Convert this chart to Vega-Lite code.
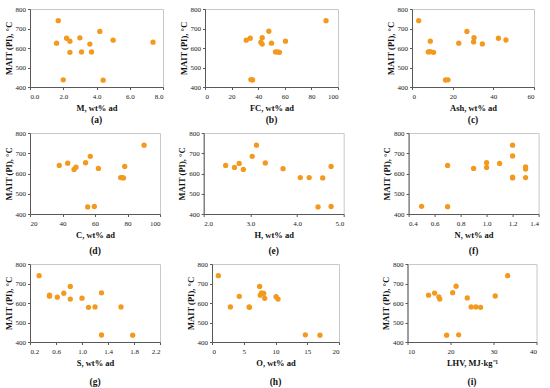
{
  "$schema": "https://vega.github.io/schema/vega-lite/v6.json",
  "padding": {"left": 3, "top": 4, "right": 0, "bottom": 0},
  "background": "white",
  "config": {
    "font": "Liberation Serif",
    "view": {"stroke": "#c8c8c8", "strokeWidth": 1},
    "axis": {
      "grid": false,
      "labelFont": "Liberation Serif",
      "labelFontSize": 7,
      "labelColor": "#222222",
      "titleFont": "Liberation Serif",
      "titleFontSize": 8.5,
      "titleFontWeight": "bold",
      "titleColor": "#111111",
      "domainColor": "#595959",
      "tickColor": "#595959",
      "tickSize": 2.5,
      "labelPadding": 2,
      "titlePadding": 2
    },
    "axisX": {"labelPadding": 3, "titlePadding": 4},
    "title": {"font": "Liberation Serif", "fontSize": 9.5, "fontWeight": "bold", "color": "#111111"},
    "circle": {"size": 28, "opacity": 1, "color": "#F39A1E"}
  },
  "datasets": {
    "a": [
      {"x": 1.7, "y": 740}, {"x": 1.6, "y": 625}, {"x": 2.2, "y": 650}, {"x": 2.4, "y": 635},
      {"x": 2.4, "y": 578}, {"x": 3.0, "y": 652}, {"x": 3.1, "y": 580}, {"x": 3.6, "y": 620},
      {"x": 3.7, "y": 580}, {"x": 4.2, "y": 685}, {"x": 2.0, "y": 437}, {"x": 4.4, "y": 435},
      {"x": 5.0, "y": 640}, {"x": 7.4, "y": 630}
    ],
    "b": [
      {"x": 31, "y": 640}, {"x": 34, "y": 650}, {"x": 43, "y": 653}, {"x": 42, "y": 630},
      {"x": 43, "y": 620}, {"x": 48, "y": 686}, {"x": 50, "y": 625}, {"x": 53, "y": 580},
      {"x": 54.5, "y": 580}, {"x": 56, "y": 578}, {"x": 60.5, "y": 635}, {"x": 91, "y": 740},
      {"x": 34.5, "y": 438}, {"x": 35.8, "y": 436}
    ],
    "c": [
      {"x": 3.3, "y": 740}, {"x": 9, "y": 635}, {"x": 8, "y": 580}, {"x": 9, "y": 581},
      {"x": 10.6, "y": 578}, {"x": 16.5, "y": 436}, {"x": 17.7, "y": 437}, {"x": 23, "y": 625},
      {"x": 27, "y": 685}, {"x": 30.5, "y": 653}, {"x": 30.3, "y": 631}, {"x": 34.6, "y": 621},
      {"x": 42.5, "y": 650}, {"x": 46.2, "y": 641}
    ],
    "d": [
      {"x": 38, "y": 640}, {"x": 43.2, "y": 651}, {"x": 47.1, "y": 620}, {"x": 48.3, "y": 631},
      {"x": 54.2, "y": 653}, {"x": 57.1, "y": 685}, {"x": 62.1, "y": 625}, {"x": 55.5, "y": 435},
      {"x": 59.6, "y": 437}, {"x": 75.8, "y": 580}, {"x": 76.8, "y": 580}, {"x": 77.5, "y": 578},
      {"x": 78.3, "y": 635}, {"x": 90.2, "y": 740}
    ],
    "e": [
      {"x": 2.47, "y": 640}, {"x": 2.66, "y": 630}, {"x": 2.76, "y": 650}, {"x": 2.85, "y": 620},
      {"x": 3.04, "y": 685}, {"x": 3.13, "y": 740}, {"x": 3.32, "y": 652}, {"x": 3.7, "y": 624},
      {"x": 4.07, "y": 580}, {"x": 4.26, "y": 580}, {"x": 4.55, "y": 578}, {"x": 4.73, "y": 635},
      {"x": 4.45, "y": 435}, {"x": 4.73, "y": 437}
    ],
    "f": [
      {"x": 0.5, "y": 438}, {"x": 0.7, "y": 436}, {"x": 0.7, "y": 640}, {"x": 0.9, "y": 625},
      {"x": 1.0, "y": 653}, {"x": 1.0, "y": 630}, {"x": 1.1, "y": 650}, {"x": 1.2, "y": 740},
      {"x": 1.2, "y": 687}, {"x": 1.2, "y": 582}, {"x": 1.2, "y": 578}, {"x": 1.3, "y": 633},
      {"x": 1.3, "y": 622}, {"x": 1.3, "y": 580}
    ],
    "g": [
      {"x": 0.34, "y": 740}, {"x": 0.5, "y": 640}, {"x": 0.5, "y": 635}, {"x": 0.62, "y": 630},
      {"x": 0.72, "y": 650}, {"x": 0.82, "y": 685}, {"x": 0.82, "y": 620}, {"x": 1.0, "y": 625},
      {"x": 1.1, "y": 578}, {"x": 1.2, "y": 580}, {"x": 1.3, "y": 652}, {"x": 1.3, "y": 436},
      {"x": 1.6, "y": 580}, {"x": 1.78, "y": 435}
    ],
    "h": [
      {"x": 1.0, "y": 740}, {"x": 2.9, "y": 580}, {"x": 4.3, "y": 634}, {"x": 5.85, "y": 580},
      {"x": 5.9, "y": 578}, {"x": 7.5, "y": 685}, {"x": 7.6, "y": 640}, {"x": 7.8, "y": 652},
      {"x": 8.15, "y": 649}, {"x": 8.3, "y": 624}, {"x": 10.1, "y": 632}, {"x": 10.4, "y": 620},
      {"x": 14.7, "y": 437}, {"x": 17.0, "y": 435}
    ],
    "i": [
      {"x": 14.9, "y": 640}, {"x": 16.3, "y": 651}, {"x": 17.3, "y": 631}, {"x": 17.5, "y": 620},
      {"x": 20.5, "y": 653}, {"x": 21.3, "y": 686}, {"x": 23.9, "y": 626}, {"x": 24.8, "y": 580},
      {"x": 25.9, "y": 580}, {"x": 27.0, "y": 578}, {"x": 30.4, "y": 636}, {"x": 33.3, "y": 740},
      {"x": 19.1, "y": 435}, {"x": 21.9, "y": 437}
    ]
  },
  "vconcat": [
    {
      "hconcat": [
        {
          "hconcat": [
            {
              "width": 133, "height": 78,
              "data": {"name": "a"},
              "mark": "circle",
              "encoding": {
                "x": {"field": "x", "type": "quantitative", "scale": {"domain": [0, 8], "nice": false, "zero": false}, "axis": {"values": [0, 2, 4, 6, 8], "format": ".1f", "title": "M, wt% ad"}},
                "y": {"field": "y", "type": "quantitative", "scale": {"domain": [400, 800], "nice": false, "zero": false}, "axis": {"values": [400, 500, 600, 700, 800], "title": "MAIT (PI), °C"}}
              },
              "title": {"text": "(a)", "orient": "bottom", "offset": 3}
            },
            {
              "width": 133, "height": 78,
              "data": {"name": "b"},
              "mark": "circle",
              "encoding": {
                "x": {"field": "x", "type": "quantitative", "scale": {"domain": [0, 100], "nice": false, "zero": false}, "axis": {"values": [0, 20, 40, 60, 80, 100], "title": "FC, wt% ad"}},
                "y": {"field": "y", "type": "quantitative", "scale": {"domain": [400, 800], "nice": false, "zero": false}, "axis": {"values": [400, 500, 600, 700, 800], "title": "MAIT (PI), °C"}}
              },
              "title": {"text": "(b)", "orient": "bottom", "offset": 3}
            }
          ],
          "spacing": 14
        },
        {
          "width": 122, "height": 78,
          "data": {"name": "c"},
          "mark": "circle",
          "encoding": {
            "x": {"field": "x", "type": "quantitative", "scale": {"domain": [0, 60], "nice": false, "zero": false}, "axis": {"values": [0, 20, 40, 60], "title": "Ash, wt% ad"}},
            "y": {"field": "y", "type": "quantitative", "scale": {"domain": [400, 800], "nice": false, "zero": false}, "axis": {"values": [400, 500, 600, 700, 800], "title": "MAIT (PI), °C"}}
          },
          "title": {"text": "(c)", "orient": "bottom", "offset": 3}
        }
      ],
      "spacing": 46
    },
    {
      "hconcat": [
        {
          "hconcat": [
            {
              "width": 130, "height": 81,
              "data": {"name": "d"},
              "mark": "circle",
              "encoding": {
                "x": {"field": "x", "type": "quantitative", "scale": {"domain": [20, 100], "nice": false, "zero": false}, "axis": {"values": [20, 40, 60, 80, 100], "title": "C, wt% ad"}},
                "y": {"field": "y", "type": "quantitative", "scale": {"domain": [400, 800], "nice": false, "zero": false}, "axis": {"values": [400, 500, 600, 700, 800], "title": "MAIT (PI), °C"}}
              },
              "title": {"text": "(d)", "orient": "bottom", "offset": 7}
            },
            {
              "width": 140, "height": 81,
              "data": {"name": "e"},
              "mark": "circle",
              "encoding": {
                "x": {"field": "x", "type": "quantitative", "scale": {"domain": [2, 5], "nice": false, "zero": false}, "axis": {"values": [2, 3, 4, 5], "format": ".1f", "title": "H, wt% ad"}},
                "y": {"field": "y", "type": "quantitative", "scale": {"domain": [400, 800], "nice": false, "zero": false}, "axis": {"values": [400, 500, 600, 700, 800], "title": "MAIT (PI), °C"}}
              },
              "title": {"text": "(e)", "orient": "bottom", "offset": 7}
            }
          ],
          "spacing": 15.7
        },
        {
          "width": 130, "height": 81,
          "data": {"name": "f"},
          "mark": "circle",
          "encoding": {
            "x": {"field": "x", "type": "quantitative", "scale": {"domain": [0.4, 1.4], "nice": false, "zero": false}, "axis": {"values": [0.4, 0.6, 0.8, 1.0, 1.2, 1.4], "format": ".1f", "title": "N, wt% ad"}},
            "y": {"field": "y", "type": "quantitative", "scale": {"domain": [400, 800], "nice": false, "zero": false}, "axis": {"values": [400, 500, 600, 700, 800], "title": "MAIT (PI), °C"}}
          },
          "title": {"text": "(f)", "orient": "bottom", "offset": 7}
        }
      ],
      "spacing": 36.6
    },
    {
      "hconcat": [
        {
          "hconcat": [
            {
              "width": 130, "height": 78,
              "data": {"name": "g"},
              "mark": "circle",
              "encoding": {
                "x": {"field": "x", "type": "quantitative", "scale": {"domain": [0.2, 2.2], "nice": false, "zero": false}, "axis": {"values": [0.2, 0.6, 1.0, 1.4, 1.8, 2.2], "format": ".1f", "title": "S, wt% ad"}},
                "y": {"field": "y", "type": "quantitative", "scale": {"domain": [400, 800], "nice": false, "zero": false}, "axis": {"values": [400, 500, 600, 700, 800], "title": "MAIT (PI), °C"}}
              },
              "title": {"text": "(g)", "orient": "bottom", "offset": 10}
            },
            {
              "width": 127, "height": 78,
              "data": {"name": "h"},
              "mark": "circle",
              "encoding": {
                "x": {"field": "x", "type": "quantitative", "scale": {"domain": [0, 20], "nice": false, "zero": false}, "axis": {"values": [0, 5, 10, 15, 20], "title": "O, wt% ad"}},
                "y": {"field": "y", "type": "quantitative", "scale": {"domain": [400, 800], "nice": false, "zero": false}, "axis": {"values": [400, 500, 600, 700, 800], "title": "MAIT (PI), °C"}}
              },
              "title": {"text": "(h)", "orient": "bottom", "offset": 10}
            }
          ],
          "spacing": 24
        },
        {
          "width": 129, "height": 78,
          "data": {"name": "i"},
          "mark": "circle",
          "encoding": {
            "x": {"field": "x", "type": "quantitative", "scale": {"domain": [10, 40], "nice": false, "zero": false}, "axis": {"values": [10, 20, 30, 40], "title": "LHV, MJ·kg⁻¹"}},
            "y": {"field": "y", "type": "quantitative", "scale": {"domain": [400, 800], "nice": false, "zero": false}, "axis": {"values": [400, 500, 600, 700, 800], "title": "MAIT (PI), °C"}}
          },
          "title": {"text": "(i)", "orient": "bottom", "offset": 10}
        }
      ],
      "spacing": 40.5
    }
  ],
  "spacing": 3
}
